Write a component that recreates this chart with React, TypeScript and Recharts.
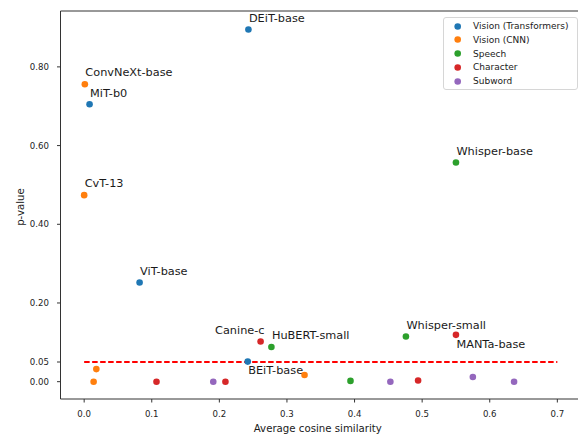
import { ScatterChart, Scatter, XAxis, YAxis, ReferenceLine, Label } from 'recharts';

const CATEGORIES = ['Vision (Transformers)', 'Vision (CNN)', 'Speech', 'Character', 'Subword'];
const COLORS = ['#1f77b4', '#ff7f0e', '#2ca02c', '#d62728', '#9467bd'];

// values
const transformerX = [0.243, 0.008, 0.082, 0.242];
const transformerY = [0.895, 0.705, 0.252, 0.051];
const transformerNames = ['DEiT-base', 'MiT-b0', 'ViT-base', 'BEiT-base'];

const cnnX = [0.001, 0.0, 0.018, 0.014, 0.326];
const cnnY = [0.756, 0.474, 0.032, 0.0, 0.017];
const cnnNames = ['ConvNeXt-base', 'CvT-13', '', '', ''];

const speechX = [0.55, 0.476, 0.277, 0.394];
const speechY = [0.557, 0.115, 0.088, 0.002];
const speechNames = ['Whisper-base', 'Whisper-small', 'HuBERT-small', ''];

const charX = [0.261, 0.55, 0.107, 0.209, 0.494];
const charY = [0.102, 0.119, 0.0, 0.0, 0.003];
const charNames = ['Canine-c', 'MANTa-base', '', '', ''];

const subwordX = [0.191, 0.453, 0.575, 0.636];
const subwordY = [0.0, 0.0, 0.012, 0.0];
const subwordNames = ['', '', '', ''];

const xTicks = [0, 0.1, 0.2, 0.3, 0.4, 0.5, 0.6, 0.7];
const yTicks = [0, 0.05, 0.2, 0.4, 0.6, 0.8];
const threshold = 0.05;

const X_DOMAIN = [-0.035, 0.735];
const Y_DOMAIN = [-0.044, 0.942];

const labelBelow = ['BEiT-base', 'MANTa-base'];
const labelLeft = ['Canine-c'];

const FONT = '"DejaVu Sans", sans-serif';

const toPoints = (xs: number[], ys: number[], names: string[]) =>
  xs.map((x, i) => ({ x, y: ys[i], name: names[i] }));

const series = [
  toPoints(transformerX, transformerY, transformerNames),
  toPoints(cnnX, cnnY, cnnNames),
  toPoints(speechX, speechY, speechNames),
  toPoints(charX, charY, charNames),
  toPoints(subwordX, subwordY, subwordNames),
];

const makeShape = (color: string) => (props: any) => {
  const { cx, cy, payload } = props;
  const name = payload?.name;
  let label = null;
  if (name) {
    const below = labelBelow.includes(name);
    const left = labelLeft.includes(name);
    label = (
      <text
        x={left ? cx + 4 : cx + 0.5}
        y={below ? cy + 12.8 : cy - 7.7}
        textAnchor={left ? 'end' : 'start'}
        fontSize={11.3}
        fontFamily={FONT}
        fill="#1a1a1a"
      >
        {name}
      </text>
    );
  }
  return (
    <g>
      <circle cx={cx} cy={cy} r={3.3} fill={color} />
      {label}
    </g>
  );
};

const tickStyle = { fontSize: 8.6, fill: '#222', fontFamily: FONT };

export default function App() {
  return (
    <div style={{ position: 'absolute', left: 0, top: 0, width: 578, height: 435, overflow: 'hidden', background: '#fff' }}>
      <ScatterChart width={582} height={435} margin={{ top: 11, right: 1, bottom: 0, left: 0 }}>
        <XAxis
          type="number"
          dataKey="x"
          domain={X_DOMAIN}
          ticks={xTicks}
          allowDataOverflow
          tickFormatter={(v: number) => v.toFixed(1)}
          tick={tickStyle}
          tickSize={3.5}
          tickMargin={8.7}
          height={36}
          stroke="#333"
        >
          <Label
            content={({ viewBox }: any) => (
              <text
                x={viewBox.x + viewBox.width / 2 - 3}
                y={431.8}
                textAnchor="middle"
                fontSize={10.2}
                fontFamily={FONT}
                fill="#1a1a1a"
              >
                Average cosine similarity
              </text>
            )}
          />
        </XAxis>
        <YAxis
          type="number"
          dataKey="y"
          domain={Y_DOMAIN}
          ticks={yTicks}
          allowDataOverflow
          tickFormatter={(v: number) => v.toFixed(2)}
          tick={tickStyle}
          tickSize={3.5}
          tickMargin={8}
          width={60.5}
          stroke="#333"
        >
          <Label
            content={() => (
              <text
                x={20}
                y={207}
                transform="rotate(-90, 20, 207)"
                textAnchor="middle"
                dominantBaseline="central"
                fontSize={10.2}
                fontFamily={FONT}
                fill="#1a1a1a"
              >
                p-value
              </text>
            )}
          />
        </YAxis>
        <ReferenceLine y={Y_DOMAIN[1]} stroke="#333" ifOverflow="visible" />
        <ReferenceLine
          segment={[{ x: 0, y: threshold }, { x: 0.7, y: threshold }]}
          stroke="#ff0000"
          strokeDasharray="5.5 2.5"
          strokeWidth={1.8}
          ifOverflow="visible"
        />
        {series.map((data, i) => (
          <Scatter
            key={CATEGORIES[i]}
            name={CATEGORIES[i]}
            data={data}
            fill={COLORS[i]}
            shape={makeShape(COLORS[i])}
            isAnimationActive={false}
          />
        ))}
      </ScatterChart>
      <div
        style={{
          position: 'absolute',
          left: 443,
          top: 17,
          width: 133,
          height: 71,
          border: '1px solid #d6d6d6',
          borderRadius: 3,
          background: 'rgba(255,255,255,0.8)',
          fontFamily: FONT,
          fontSize: 9,
          color: '#1a1a1a',
        }}
      >
        {CATEGORIES.map((c, i) => (
          <div
            key={c}
            style={{ position: 'absolute', left: 0, top: 1.5 + i * 13.75, height: 13, display: 'flex', alignItems: 'center', whiteSpace: 'nowrap' }}
          >
            <svg width={29} height={13} style={{ display: 'block' }}>
              <circle cx={13.7} cy={6.5} r={3.3} fill={COLORS[i]} />
            </svg>
            <span>{c}</span>
          </div>
        ))}
      </div>
    </div>
  );
}
